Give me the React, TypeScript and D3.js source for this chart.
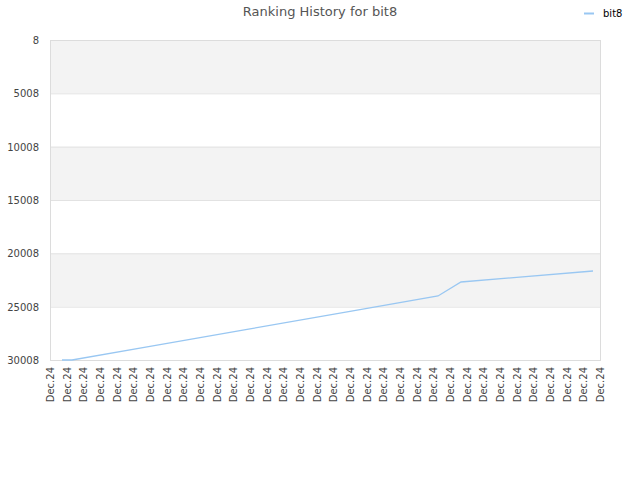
import React from "react";
import * as d3 from "d3";

const title = "Ranking History for bit8";
const seriesName = "bit8";
const xLabels: string[] = Array.from({ length: 34 }, () => "Dec.24");
const yTicks = [8, 5008, 10008, 15008, 20008, 25008, 30008];
// positions in label-index units, ranks
const pointX = [0.72, 1.32, 6.0, 12.0, 18.0, 23.28, 24.66, 28.0, 32.58];
const pointRank = [30008, 30008, 28733, 27092, 25452, 24008, 22696, 22264, 21664];

const W = 640;
const H = 480;
const left = 50, right = 600, top = 40, bottom = 360;
const font = "DejaVu Sans, sans-serif";

export default function App() {
  const x = d3.scaleLinear().domain([0, xLabels.length - 1]).range([left, right]);
  const y = d3.scaleLinear().domain([8, 30008]).range([top, bottom]);
  const pts: [number, number][] = pointX.map((px, i) => [x(px), y(pointRank[i])]);
  const line = d3.line()(pts) || "";
  const bands = [];
  for (let i = 0; i < yTicks.length - 1; i++) {
    bands.push(
      <rect key={"b" + i} x={left} y={y(yTicks[i])} width={right - left}
        height={y(yTicks[i + 1]) - y(yTicks[i])} fill={i % 2 === 0 ? "#f3f3f3" : "#ffffff"} />
    );
  }
  return (
    <svg width={W} height={H} style={{ position: "absolute", left: 0, top: 0 }}>
      <rect width={W} height={H} fill="#fff" />
      <text x={320} y={16} textAnchor="middle" fontFamily={font} fontSize={13} fill="#555">{title}</text>
      <line x1={584} x2={594} y1={13.5} y2={13.5} stroke="#99c7f2" strokeWidth={2} />
      <text x={603} y={17} fontFamily={font} fontSize={10} fill="#000">{seriesName}</text>
      {bands}
      {yTicks.map((t, i) => (
        <g key={"t" + i}>
          <line x1={left} x2={right} y1={y(t) + 0.5} y2={y(t) + 0.5} stroke="#e2e2e2" />
          <text x={39} y={y(t) + 4} textAnchor="end" fontFamily={font} fontSize={10} fill="#444">{t}</text>
        </g>
      ))}
      <rect x={left + 0.5} y={top + 0.5} width={right - left} height={bottom - top}
        fill="none" stroke="#dcdcdc" />
      {xLabels.map((l, i) => (
        <text key={"x" + i} transform={`translate(${x(i) + 4},${bottom + 7}) rotate(-90)`}
          textAnchor="end" fontFamily={font} fontSize={10} fill="#444">{l}</text>
      ))}
      <path d={line} fill="none" stroke="#99c7f2" strokeWidth={1.3} />
    </svg>
  );
}
